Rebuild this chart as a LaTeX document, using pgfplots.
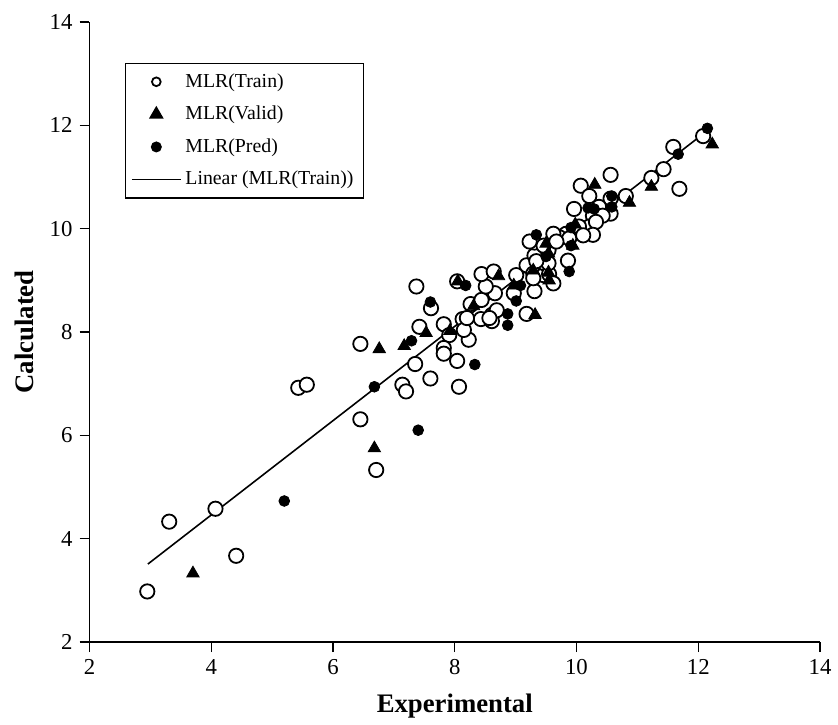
\documentclass[border=0pt]{standalone}
\usepackage{fontspec}
\setmainfont{Liberation Serif}
\usepackage{pgfplots}
\pgfplotsset{compat=1.18}
\begin{document}
\begin{tikzpicture}
\begin{axis}[name=ax, scale only axis, width=367.5bp, height=312bp,
  xmin=2, xmax=14, ymin=2, ymax=14,
  xtick={2,4,...,14}, ytick={2,4,...,14},
  axis lines*=left, axis line style={line width=0.9bp, -},
  tick align=outside, major tick length=5bp,
  tick style={line width=0.7bp, black},
  /pgf/number format/assume math mode=true,
  ticklabel style={font=\fontsize{11.5}{13}\selectfont},
  xlabel={Experimental}, ylabel={Calculated},
  label style={font=\bfseries\fontsize{13.5}{15}\selectfont},
  xlabel style={at={(axis description cs:0.5,-0.1026)}, anchor=center},
  ylabel style={at={(axis description cs:-0.0884,0.5)}, anchor=center},
  clip=false,
  legend cell align=left,
  legend style={at={(0.048,0.934)}, anchor=north west, draw=black,
    line width=0.7bp, font=\fontsize{10}{11.5}\selectfont,
    row sep=4bp, inner xsep=3bp, inner ysep=3bp},
  legend image code/.code={\draw[mark repeat=2,mark phase=2,#1] plot coordinates {(0bp,0bp) (12.25bp,0bp) (24.5bp,0bp)};},
]
\addlegendimage{only marks, mark=*, mark options={fill=white, draw=black, line width=0.9bp}, mark size=2.2bp}
\addlegendentry{MLR(Train)}
\addlegendimage{only marks, mark=triangle*, mark options={fill=black, draw=black}, mark size=3.6bp}
\addlegendentry{MLR(Valid)}
\addlegendimage{only marks, mark=*, mark options={fill=black, draw=black}, mark size=2.4bp}
\addlegendentry{MLR(Pred)}
\addlegendimage{black, line width=0.8bp}
\addlegendentry{Linear (MLR(Train))}

% Train
\addplot[forget plot, only marks, mark=*, mark size=3.6bp, mark options={fill=white, draw=black, line width=0.9bp}] coordinates {
(2.95,2.98) (3.31,4.33) (4.07,4.58) (4.41,3.67) (6.45,6.31) (6.71,5.33)
(5.43,6.92) (5.57,6.98) (6.45,7.77) (7.37,8.88) (7.61,8.46) (7.42,8.10)
(7.82,8.15) (7.91,7.94) (7.82,7.69) (7.82,7.58) (8.04,7.44) (8.23,7.85)
(8.13,8.25) (8.15,8.04) (8.43,8.25) (8.61,8.33) (8.61,8.21) (8.26,8.54)
(8.44,8.62) (8.66,8.75) (8.51,8.88) (8.44,9.12) (8.64,9.17) (8.04,8.98)
(8.97,8.75) (9.31,8.79) (9.18,8.35) (8.07,6.94) (7.60,7.10) (7.14,6.98)
(7.20,6.85) (7.35,7.38) (9.18,9.29) (9.31,9.48) (9.29,9.13) (9.46,9.10)
(9.47,9.33) (12.08,11.79) (11.59,11.58) (11.69,10.77) (11.43,11.15) (11.23,10.98)
(10.56,11.04) (10.07,10.83) (10.21,10.63) (10.81,10.63) (10.56,10.58) (10.56,10.29)
(10.37,10.42) (9.96,10.38) (10.27,10.25) (10.43,10.25) (10.21,10.04) (10.32,10.13)
(10.27,9.88) (10.04,10.04) (9.83,9.90) (9.72,9.83) (9.62,9.90) (9.88,9.81)
(10.11,9.87) (9.86,9.38) (9.55,9.12) (9.62,8.94) (9.31,9.73) (9.54,9.33)
(9.54,9.58) (9.23,9.75) (9.46,9.67) (9.67,9.75) (9.01,9.10) (9.34,9.37)
(9.29,9.04) (8.69,8.42) (8.57,8.27) (8.20,8.27)
};
% Valid
\addplot[forget plot, only marks, mark=triangle*, mark size=3.6bp, mark options={fill=black, draw=black}] coordinates {
(3.70,3.33) (6.68,5.75) (6.76,7.67) (7.17,7.73) (7.53,7.98) (7.92,8.02)
(8.31,8.50) (8.72,9.08) (8.05,8.98) (8.97,8.90) (9.32,8.33) (12.23,11.63)
(11.23,10.81) (10.30,10.85) (10.87,10.50) (9.98,10.08) (9.94,9.67) (9.55,9.00)
(9.50,9.71) (9.54,9.52) (9.29,9.19) (9.54,9.15)
};
% Pred
\addplot[forget plot, only marks, mark=*, mark size=2.7bp, mark options={fill=black, draw=black}] coordinates {
(5.20,4.73) (7.40,6.10) (6.68,6.94) (7.29,7.83) (7.60,8.58) (8.18,8.90)
(9.08,8.90) (9.01,8.60) (8.87,8.35) (8.87,8.13) (8.33,7.37) (12.15,11.94)
(11.67,11.44) (10.58,10.63) (10.58,10.42) (10.19,10.40) (10.29,10.38) (9.91,10.02)
(9.91,9.67) (9.88,9.17) (9.34,9.88) (9.50,9.46)
};
% Linear trend of train
\addplot[forget plot, black, line width=0.8bp] coordinates {(2.96,3.51) (12.10,11.85)};
\end{axis}
\path ([shift={(-45bp,-40.5bp)}]ax.south west) rectangle ([shift={(6.5bp,11bp)}]ax.north east);
\end{tikzpicture}
\end{document}
